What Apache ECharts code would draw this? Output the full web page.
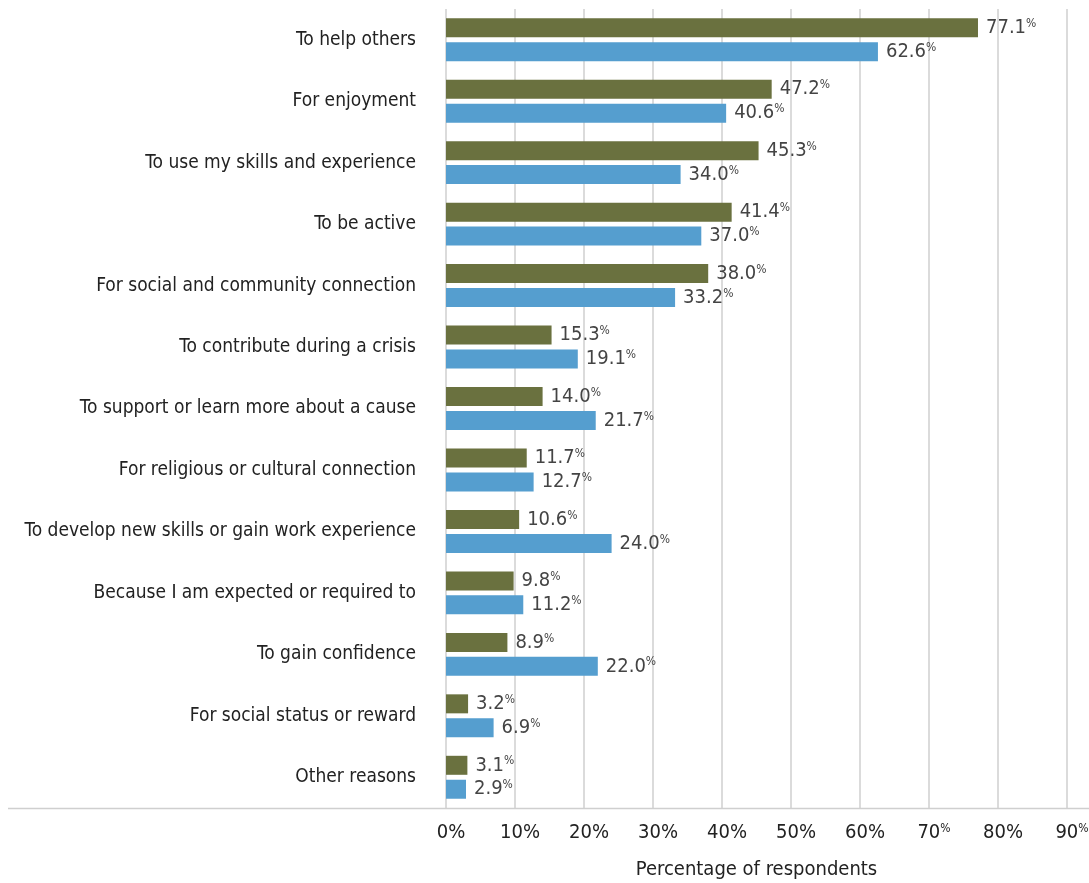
<!DOCTYPE html>
<html>
<head>
<meta charset="utf-8">
<script src="https://cdn.jsdelivr.net/npm/echarts@6/dist/echarts.min.js"></script>
<style>
  html, body { margin: 0; padding: 0; background: #fff; }
  #chart { width: 1089px; height: 883px; }
</style>
</head>
<body>
<div id="chart"></div>
<script>
// Reasons for volunteering, two respondent groups
const categories = [
  'To help others',
  'For enjoyment',
  'To use my skills and experience',
  'To be active',
  'For social and community connection',
  'To contribute during a crisis',
  'To support or learn more about a cause',
  'For religious or cultural connection',
  'To develop new skills or gain work experience',
  'Because I am expected or required to',
  'To gain confidence',
  'For social status or reward',
  'Other reasons'
];
const groupA = [77.1, 47.2, 45.3, 41.4, 38.0, 15.3, 14.0, 11.7, 10.6, 9.8, 8.9, 3.2, 3.1];
const groupB = [62.6, 40.6, 34.0, 37.0, 33.2, 19.1, 21.7, 12.7, 24.0, 11.2, 22.0, 6.9, 2.9];
const xTicks = [0, 10, 20, 30, 40, 50, 60, 70, 80, 90];
const superscriptTicks = [70, 90];

const FONT = '"Liberation Sans Narrow", "DejaVu Sans Condensed", "Roboto Condensed", sans-serif';

const chart = echarts.init(document.getElementById('chart'), null, { renderer: 'canvas' });

const valueLabel = {
  show: true,
  position: 'right',
  distance: 8,
  formatter: p => '{v|' + p.value.toFixed(1) + '}{p|%}',
  rich: {
    v: { fontFamily: FONT, fontSize: 20, color: '#444' },
    p: { fontFamily: FONT, fontSize: 12, color: '#444', verticalAlign: 'top', padding: [0, 0, 6, 0] }
  }
};

chart.setOption({
  animation: false,
  grid: { left: 446, right: 22, top: 9, bottom: 75, containLabel: false, outerBoundsMode: 'none' },
  xAxis: {
    type: 'value',
    min: xTicks[0],
    max: xTicks[xTicks.length - 1],
    interval: 10,
    name: 'Percentage of respondents',
    nameLocation: 'middle',
    nameGap: 52,
    nameTextStyle: { fontFamily: FONT, fontSize: 20, color: '#222' },
    axisLine: { show: false },
    axisTick: { show: false },
    splitLine: { show: true, lineStyle: { color: '#cfcfcf', width: 1.5 } },
    axisLabel: {
      margin: 15,
      padding: [0, 0, 0, 10],
      formatter: v => superscriptTicks.indexOf(v) >= 0 ? '{n|' + v + '}{s|%}' : '{n|' + v + '%}',
      rich: {
        n: { fontFamily: FONT, fontSize: 20, color: '#222' },
        s: { fontFamily: FONT, fontSize: 12, color: '#222', verticalAlign: 'top', padding: [0, 0, 6, 0] }
      }
    }
  },
  yAxis: {
    type: 'category',
    data: categories,
    inverse: true,
    axisLine: { show: false },
    axisTick: { show: false },
    axisLabel: { fontFamily: FONT, fontSize: 19, color: '#222', margin: 30 }
  },
  series: [
    {
      name: 'Group A',
      type: 'bar',
      data: groupA,
      barWidth: 19,
      barGap: '26%',
      itemStyle: { color: '#6a713f' },
      label: valueLabel
    },
    {
      name: 'Group B',
      type: 'bar',
      data: groupB,
      barWidth: 19,
      itemStyle: { color: '#559ecf' },
      label: valueLabel
    }
  ],
  graphic: [
    {
      type: 'line',
      shape: { x1: 8, y1: 808.5, x2: 1089, y2: 808.5 },
      style: { stroke: '#cfcfcf', lineWidth: 1.5 },
      z: 10
    }
  ]
});
</script>
</body>
</html>
